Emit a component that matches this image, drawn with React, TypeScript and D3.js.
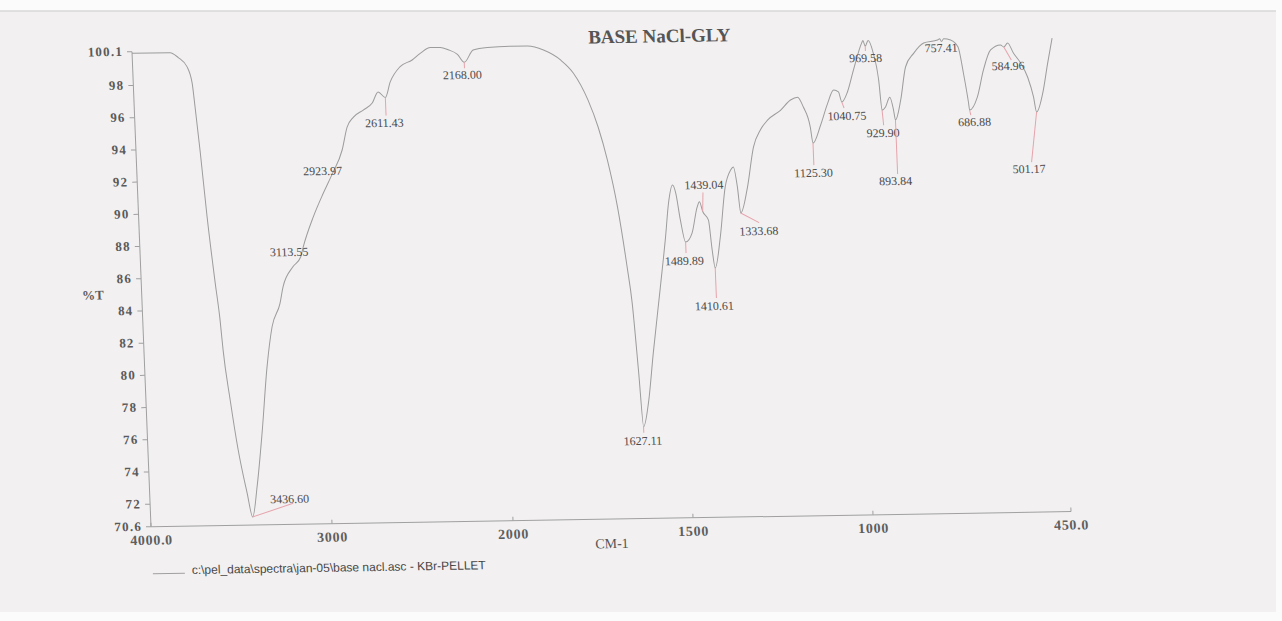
import React from 'react';
import * as d3 from 'd3';

const TITLE = 'BASE NaCl-GLY';
const X_LABEL = 'CM-1';
const Y_LABEL = '%T';
const LEGEND = 'c:\\pel_data\\spectra\\jan-05\\base nacl.asc - KBr-PELLET';

const wavenumbers = [
  4000, 3790, 3747, 3699, 3675, 3664, 3646, 3622, 3592, 3573, 3563, 3535, 3502, 3462, 3436.6,
  3405, 3366, 3324, 3287, 3238, 3218, 3158, 3113.55, 3098, 3036, 2976, 2923.97, 2861, 2829,
  2793, 2736, 2685, 2650, 2611.43, 2581, 2523, 2455, 2409, 2352, 2297, 2254, 2204, 2168,
  2116, 2037, 1955, 1907, 1863, 1817, 1783, 1745, 1720, 1698, 1675, 1655, 1645, 1635,
  1627.11, 1611, 1592, 1565, 1545, 1533, 1520, 1512, 1502, 1489.89, 1471, 1454, 1447,
  1439.04, 1424, 1417, 1410.61, 1393, 1374, 1357, 1349, 1340, 1333.68, 1312, 1291, 1270,
  1249, 1212, 1183, 1163, 1148, 1131, 1125.3, 1102, 1080, 1062, 1049, 1040.75, 1024, 1005,
  979, 975.5, 969.58, 961, 948, 936, 929.9, 920, 907, 898, 893.84, 877, 860, 836, 807, 768,
  762, 757.41, 751, 732, 712, 700, 689, 686.88, 664, 644, 622, 594, 584.96, 574, 559, 540,
  522, 508, 501.17, 482, 465, 450,
];

const transmittance = [
  100.0, 100.0, 99.7, 99.1, 98.1, 96.6, 93.9, 89.8, 85.7, 83.35, 81.5, 78.4, 75.3, 72.6, 71.1,
  73.0, 76.3, 80.4, 82.9, 84.35, 85.35, 86.6, 87.2, 87.8, 89.65, 91.1, 92.25, 93.8, 95.2,
  95.8, 96.24, 96.67, 97.35, 97.0, 97.96, 98.9, 99.3, 99.7, 100.05, 100.05, 99.9, 99.6, 99.1,
  99.86, 100.0, 100.05, 100.05, 99.78, 99.15, 98.33, 96.63, 94.95, 92.9, 89.96, 86.23, 84.0, 79.83,
  76.3, 77.76, 80.86, 84.95, 88.06, 90.16, 91.27, 90.78, 89.1, 87.72, 88.27, 89.88, 90.2,
  89.6, 89.06, 87.2, 86.08, 88.0, 91.09, 92.14, 92.33, 91.08, 89.47, 91.07, 93.55, 94.6,
  95.2, 95.8, 96.43, 96.6, 95.98, 94.73, 93.73, 94.85, 96.2, 97.0, 96.88, 96.25, 96.87, 98.22,
  99.9, 100.05, 99.7, 100.05, 99.26, 97.58, 95.7, 95.9, 96.5, 95.7, 95.08, 96.32, 98.36, 99.2, 99.83, 100.0,
  100.08, 99.9, 100.08, 99.99, 99.55, 97.93, 96.06, 95.62, 96.42, 98.1, 99.33, 99.63, 99.5, 99.75, 99.12, 98.49,
  97.6, 96.37, 95.43, 96.6, 98.46, 100.0,
];

const peakWavenumbers = [
  3436.6, 3113.55, 2923.97, 2611.43, 2168, 1627.11, 1489.89, 1439.04, 1410.61, 1333.68,
  1125.3, 1040.75, 969.58, 929.9, 893.84, 757.41, 686.88, 584.96, 501.17,
];
const peakLabels = [
  '3436.60', '3113.55', '2923.97', '2611.43', '2168.00', '1627.11', '1489.89', '1439.04', '1410.61', '1333.68',
  '1125.30', '1040.75', '969.58', '929.90', '893.84', '757.41', '686.88', '584.96', '501.17',
];

const yTickValues = [100.1, 98, 96, 94, 92, 90, 88, 86, 84, 82, 80, 78, 76, 74, 72, 70.6];
const yTickLabels = ['100.1', '98', '96', '94', '92', '90', '88', '86', '84', '82', '80', '78', '76', '74', '72', '70.6'];
const xTickValues = [4000, 3000, 2000, 1500, 1000, 450];
const xTickLabels = ['4000.0', '3000', '2000', '1500', '1000', '450.0'];

// annotation layout (pixel offsets from each peak point)
const labelOffsets: [number, number][] = [
  [37.6, -17.3], [-11.4, -4.9], [-9.1, -4], [-2.1, 25.5], [-2.5, 12.6], [-1.3, 14.2], [-2, 18.9],
  [2.3, -26.5], [-2.4, 38], [17.4, 18.4], [-0.7, 29.8], [4.6, 14], [-0.2, 12], [0.1, 22.8],
  [-2.4, 61], [-0.6, 6.4], [4.5, 12], [3.5, 19], [-9.8, 56.8],
];
const markerOffsets: ([number, number] | null)[] = [
  [41, -13], null, null, [0, 18], [0, 6], [0, 6], [0, 11], [1, -19], [0, 30], [18, 10],
  [0, 22], [2, 6], [0, 5], [1, 15], [0, 54], null, [1, 5], [7, 13], [-7, 50],
];

const W = 920;
const H = 475;

export default function App() {
  const x = d3.scaleLinear().domain([4000, 2000, 450]).range([0, 362, W]);
  const y = d3.scaleLinear().domain([70.6, 100.1]).range([H, 0]);
  const pts = wavenumbers.map((w, i) => [w, transmittance[i]] as [number, number]);
  const line = d3
    .line<[number, number]>()
    .x((d) => x(d[0]))
    .y((d) => y(d[1]))
    .curve(d3.curveMonotoneX);

  const serif = '"Liberation Serif", "Times New Roman", serif';
  const sans = '"Liberation Sans", Arial, sans-serif';

  return (
    <svg
      width={1282}
      height={621}
      style={{ position: 'absolute', left: 0, top: 0, display: 'block' }}
    >
      <rect x={0} y={0} width={1282} height={621} fill="#fbfbfb" />
      <rect x={0} y={11} width={1276} height={601} fill="#f2f0f1" />
      <line x1={0} x2={1276} y1={11} y2={11} stroke="#d9d9d9" strokeWidth={1.5} />
      <g transform="matrix(1,-0.01646,0.04,1,132,51.7)">
        <text
          x={527.6}
          y={-0.7}
          textAnchor="middle"
          fontFamily={serif}
          fontWeight="bold"
          fontSize={19}
          fill="#555"
        >
          {TITLE}
        </text>
        {/* axes */}
        <line x1={0} x2={0} y1={0} y2={H} stroke="#a0a0a0" strokeWidth={1} />
        <line x1={0} x2={W} y1={H} y2={H} stroke="#a0a0a0" strokeWidth={1} />
        {yTickValues.map((v, i) => (
          <g key={'yt' + i}>
            <line x1={-5} x2={0} y1={y(v)} y2={y(v)} stroke="#a0a0a0" strokeWidth={1} />
            <text
              x={-9}
              y={y(v) + 4}
              textAnchor="end"
              fontFamily={serif}
              fontWeight="bold"
              fontSize={13}
              letterSpacing={1.2}
              fill="#5a5a5a"
            >
              {yTickLabels[i]}
            </text>
          </g>
        ))}
        {xTickValues.map((v, i) => (
          <g key={'xt' + i}>
            <line x1={x(v)} x2={x(v)} y1={H} y2={H - 4} stroke="#a0a0a0" strokeWidth={1} />
            <text
              x={x(v)}
              y={H + 18}
              textAnchor="middle"
              fontFamily={serif}
              fontWeight="bold"
              fontSize={14}
              letterSpacing={0.7}
              fill="#5e5e5e"
            >
              {xTickLabels[i]}
            </text>
          </g>
        ))}
        <text x={460} y={H + 29} textAnchor="middle" fontFamily={serif} fontSize={14} fill="#555">
          {X_LABEL}
        </text>
        <text x={-48.7} y={247} textAnchor="middle" fontFamily={serif} fontWeight="bold" fontSize={13} fill="#5a5a5a">
          {Y_LABEL}
        </text>
        {/* spectrum */}
        <path d={line(pts) || ''} fill="none" stroke="#9c9c9c" strokeWidth={1} />
        {/* peak markers and labels */}
        {peakWavenumbers.map((w, i) => {
          const idx = wavenumbers.indexOf(w);
          const px = x(w);
          const py = y(transmittance[idx]);
          const m = markerOffsets[i];
          const o = labelOffsets[i];
          return (
            <g key={'pk' + i}>
              {m && (
                <line
                  x1={px}
                  y1={py}
                  x2={px + m[0]}
                  y2={py + m[1]}
                  stroke="#e6a3ab"
                  strokeWidth={1}
                />
              )}
              <text
                x={px + o[0]}
                y={py + o[1] + 4}
                textAnchor="middle"
                fontFamily={serif}
                fontSize={12}
                fill="#4a4a4a"
              >
                {peakLabels[i]}
              </text>
            </g>
          );
        })}
        {/* legend */}
        <line x1={0} x2={32} y1={522} y2={522} stroke="#a0a0a0" strokeWidth={1} />
        <text x={39} y={523} fontFamily={sans} fontSize={12} fill="#474747">
          {LEGEND}
        </text>
      </g>
    </svg>
  );
}
